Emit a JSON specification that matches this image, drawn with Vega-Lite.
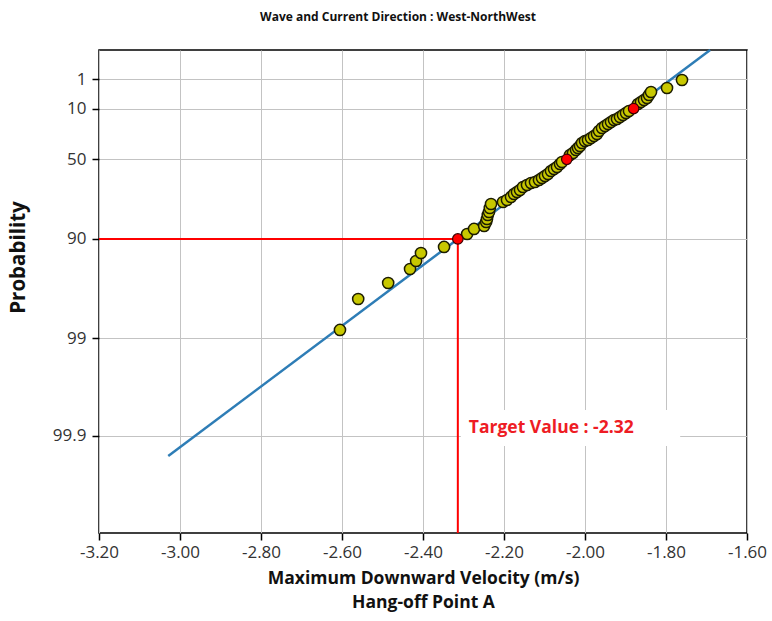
{
  "$schema": "https://vega.github.io/schema/vega-lite/v6.json",
  "width": 648,
  "height": 483,
  "autosize": {"type": "none"},
  "padding": {"left": 99, "top": 50, "right": 25, "bottom": 88},
  "background": "white",
  "config": {
    "view": {"stroke": "#000000", "strokeWidth": 1.5},
    "font": "Open Sans",
    "axis": {
      "gridColor": "#c3c3c3",
      "gridWidth": 1,
      "domain": false,
      "tickColor": "#000000",
      "tickSize": 7,
      "tickWidth": 1.5,
      "labelFont": "Open Sans",
      "labelFontSize": 17,
      "labelColor": "#333333",
      "labelFlush": false,
      "labelOverlap": false,
      "titleFont": "Open Sans",
      "titleColor": "#111111"
    }
  },
  "title": {
    "text": "Wave and Current Direction : West-NorthWest",
    "font": "Open Sans",
    "fontSize": 12,
    "fontWeight": "bold",
    "color": "#111111",
    "anchor": "middle",
    "dx": -25,
    "offset": 21
  },
  "datasets": {
    "points": [
      {"v": -2.605, "g": 4.405}, {"v": -2.560, "g": 3.672}, {"v": -2.486, "g": 3.293},
      {"v": -2.432, "g": 2.962}, {"v": -2.417, "g": 2.773}, {"v": -2.405, "g": 2.583},
      {"v": -2.348, "g": 2.441}, {"v": -2.291, "g": 2.134}, {"v": -2.274, "g": 2.015},
      {"v": -2.249, "g": 1.944}, {"v": -2.244, "g": 1.850}, {"v": -2.242, "g": 1.779},
      {"v": -2.240, "g": 1.684}, {"v": -2.237, "g": 1.613}, {"v": -2.235, "g": 1.518},
      {"v": -2.232, "g": 1.424}, {"v": -2.2025, "g": 1.377}, {"v": -2.1926, "g": 1.329},
      {"v": -2.1827, "g": 1.258}, {"v": -2.1753, "g": 1.187}, {"v": -2.1679, "g": 1.140},
      {"v": -2.1605, "g": 1.093}, {"v": -2.1531, "g": 1.022}, {"v": -2.1432, "g": 0.974},
      {"v": -2.1333, "g": 0.927}, {"v": -2.1235, "g": 0.903}, {"v": -2.1136, "g": 0.856},
      {"v": -2.1062, "g": 0.809}, {"v": -2.0988, "g": 0.761}, {"v": -2.0914, "g": 0.714},
      {"v": -2.0840, "g": 0.643}, {"v": -2.0765, "g": 0.596}, {"v": -2.0691, "g": 0.548},
      {"v": -2.0617, "g": 0.477}, {"v": -2.0568, "g": 0.430}, {"v": -2.0370, "g": 0.264},
      {"v": -2.0296, "g": 0.217}, {"v": -2.0222, "g": 0.146}, {"v": -2.0173, "g": 0.099},
      {"v": -2.0123, "g": 0.051}, {"v": -2.0074, "g": -0.020}, {"v": -2.0000, "g": -0.067},
      {"v": -1.9926, "g": -0.091}, {"v": -1.9852, "g": -0.138}, {"v": -1.9778, "g": -0.185},
      {"v": -1.9704, "g": -0.233}, {"v": -1.9654, "g": -0.304}, {"v": -1.9580, "g": -0.375},
      {"v": -1.9506, "g": -0.422}, {"v": -1.9432, "g": -0.469}, {"v": -1.9358, "g": -0.517},
      {"v": -1.9284, "g": -0.564}, {"v": -1.9210, "g": -0.588}, {"v": -1.9136, "g": -0.635},
      {"v": -1.9062, "g": -0.682}, {"v": -1.8988, "g": -0.729}, {"v": -1.8914, "g": -0.777},
      {"v": -1.8691, "g": -0.942}, {"v": -1.8617, "g": -0.990}, {"v": -1.8543, "g": -1.037},
      {"v": -1.8469, "g": -1.084}, {"v": -1.8420, "g": -1.155}, {"v": -1.8370, "g": -1.226},
      {"v": -1.7975, "g": -1.321}, {"v": -1.7605, "g": -1.510}
    ],
    "fit": [
      {"v": -3.029, "g": 7.387},
      {"v": -1.691, "g": -2.2203}
    ],
    "targets": [
      {"v": -2.314, "g": 2.2504},
      {"v": -2.045, "g": 0.3665},
      {"v": -1.880, "g": -0.8340}
    ],
    "target": [
      {"v": -2.314, "g": 2.2504, "label": "Target Value : -2.32"}
    ]
  },
  "layer": [
    {
      "data": {"name": "target"},
      "mark": {"type": "rect", "color": "white", "xOffset": 3, "yOffset": 171, "y2Offset": -87},
      "encoding": {
        "x": {
          "field": "v",
          "type": "quantitative",
          "scale": {"domain": [-3.2, -1.6], "nice": false, "zero": false},
          "axis": {
            "values": [-3.2, -3.0, -2.8, -2.6, -2.4, -2.2, -2.0, -1.8, -1.6],
            "labelExpr": "'-' + format(abs(datum.value), '.2f')",
            "labelPadding": 4,
            "title": ["Maximum Downward Velocity (m/s)", "Hang-off Point A"],
            "titleFontSize": 17.5,
            "titleFontWeight": "bold",
            "titleLineHeight": 24,
            "titlePadding": 9
          }
        },
        "x2": {"datum": -1.765},
        "y": {
          "field": "g",
          "type": "quantitative",
          "scale": {"domain": [-2.2203, 9.2102], "nice": false, "zero": false, "reverse": true},
          "axis": {
            "values": [-1.5272, -0.834, 0.3665, 2.2504, 4.6001, 6.9073],
            "labelExpr": "datum.value < -1.2 ? '1\u00a0\u00a0' : datum.value < 0 ? '10' : datum.value < 1 ? '50' : datum.value < 3 ? '90' : datum.value < 5 ? '99' : '99.9'",
            "labelPadding": 6,
            "title": "Probability",
            "titleFontSize": 20.5,
            "titleFontWeight": "bold",
            "titleAngle": -90,
            "titleX": -81,
            "titleY": 207,
            "titleAlign": "center",
            "titleBaseline": "middle"
          }
        },
        "y2": {"datum": 9.2102}
      }
    },
    {
      "data": {"name": "fit"},
      "mark": {"type": "line", "color": "#2e7db6", "strokeWidth": 2.5},
      "encoding": {
        "x": {"field": "v", "type": "quantitative"},
        "y": {"field": "g", "type": "quantitative"}
      }
    },
    {
      "data": {"name": "target"},
      "mark": {"type": "rule", "color": "#ff0000", "strokeWidth": 2},
      "encoding": {
        "x": {"field": "v", "type": "quantitative"},
        "x2": {"datum": -3.2},
        "y": {"field": "g", "type": "quantitative"}
      }
    },
    {
      "data": {"name": "target"},
      "mark": {"type": "rule", "color": "#ff0000", "strokeWidth": 2},
      "encoding": {
        "x": {"field": "v", "type": "quantitative"},
        "y": {"field": "g", "type": "quantitative"},
        "y2": {"datum": 9.2102}
      }
    },
    {
      "data": {"name": "points"},
      "mark": {"type": "point", "shape": "circle", "filled": true, "size": 125, "fill": "#c8c800", "stroke": "#1c1c00", "strokeWidth": 1.5, "opacity": 1},
      "encoding": {
        "x": {"field": "v", "type": "quantitative"},
        "y": {"field": "g", "type": "quantitative"}
      }
    },
    {
      "data": {"name": "targets"},
      "mark": {"type": "point", "shape": "circle", "filled": true, "size": 110, "fill": "#ff0000", "stroke": "#3a0000", "strokeWidth": 1.2, "opacity": 1},
      "encoding": {
        "x": {"field": "v", "type": "quantitative"},
        "y": {"field": "g", "type": "quantitative"}
      }
    },
    {
      "data": {"name": "target"},
      "mark": {"type": "text", "color": "#ee1c24", "fontSize": 17.5, "fontWeight": "bold", "font": "Open Sans", "align": "left", "baseline": "middle", "dx": 11, "dy": 189},
      "encoding": {
        "x": {"field": "v", "type": "quantitative"},
        "y": {"field": "g", "type": "quantitative"},
        "text": {"field": "label"}
      }
    }
  ]
}
